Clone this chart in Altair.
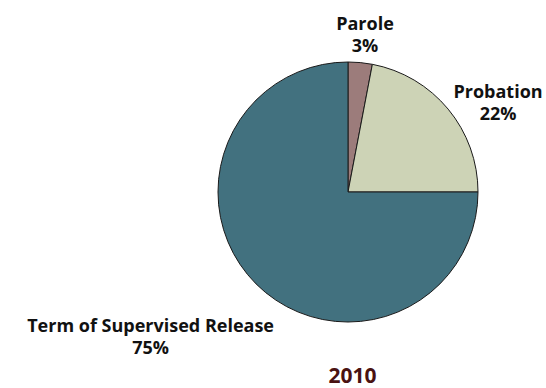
import altair as alt
import pandas as pd

categories = ["Parole", "Probation", "Term of Supervised Release"]
percents = [3, 22, 75]
order = [1, 2, 3]
colors = ["#9c7c7b", "#cdd3b6", "#42717f"]
year = ["2010"]

df = pd.DataFrame({"category": categories, "pct": percents, "order": order})

base = alt.Chart(df)

pie = base.mark_arc(radius=130, stroke="#1a1a1a", strokeWidth=1).encode(
    theta=alt.Theta("pct:Q", stack=True),
    order=alt.Order("order:O"),
    color=alt.Color("category:N", scale=alt.Scale(domain=categories, range=colors), legend=None),
)

lbl = base.transform_window(
    cum="sum(pct)", sort=[alt.SortField("order")], frame=[None, 0]
).transform_calculate(
    mid="(datum.cum - datum.pct/2) / 100 * 2 * PI",
    label="datum.category + '\\n' + datum.pct + '%'",
)

def label_layer(cat, radius, dx, dy):
    return lbl.transform_filter(alt.datum.category == cat).mark_text(
        radius=radius, dx=dx, dy=dy, lineBreak="\n", font="Open Sans",
        fontWeight="bold", fontSize=18, lineHeight=22, color="#111111",
        align="center", baseline="middle",
    ).encode(
        theta=alt.Theta("mid:Q", scale=None, stack=None),
        text="label:N",
    )

year_text = alt.Chart(pd.DataFrame({"year": year})).mark_text(
    font="Open Sans", fontWeight="bold", fontSize=21, color="#4a1212",
    align="center", baseline="middle",
).encode(
    text="year:N",
    x=alt.value(134.5),
    y=alt.value(315),
)

chart = alt.layer(
    pie,
    label_layer("Parole", 159, 2, -9),
    label_layer("Probation", 174, 16, 12),
    label_layer("Term of Supervised Release", 200, -56, -6),
    year_text,
).properties(
    width=260,
    height=260,
    autosize=alt.AutoSizeParams(type="none"),
    padding={"left": 218, "top": 62, "right": 68, "bottom": 66},
).configure_view(stroke=None)

chart.save("out.html", embed_options={"renderer": "svg", "actions": False})
